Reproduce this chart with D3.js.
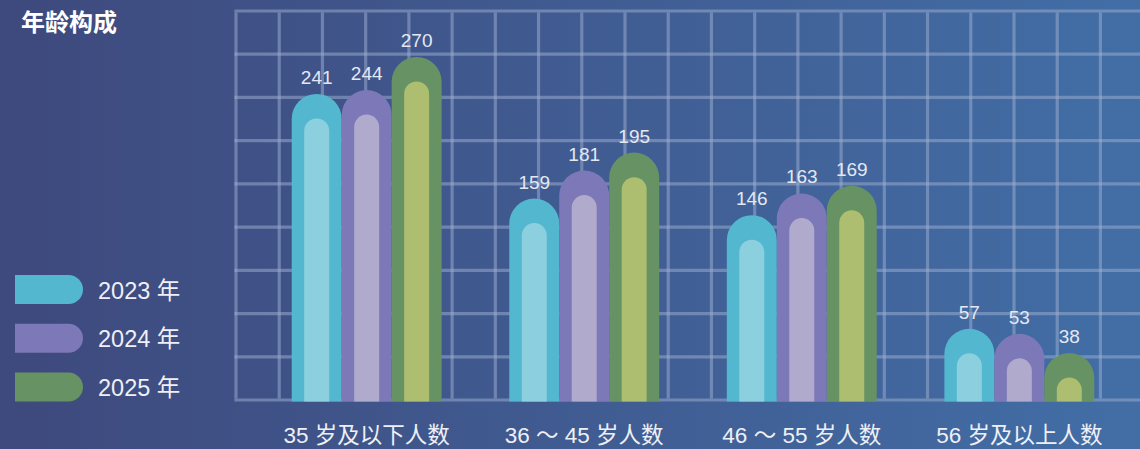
<!DOCTYPE html>
<html>
<head>
<meta charset="utf-8">
<script src="https://cdn.jsdelivr.net/npm/d3@7"></script>
<style>
  html, body { margin: 0; padding: 0; overflow: hidden; }
  body { width: 1140px; height: 449px; }
  text { font-family: "Liberation Sans", Arial, "Noto Sans CJK SC", sans-serif; }
</style>
</head>
<body>
<script>
// data
var categories = ["35 岁及以下人数", "36 ～ 45 岁人数", "46 ～ 55 岁人数", "56 岁及以上人数"];
var seriesNames = ["2023 年", "2024 年", "2025 年"];
var values2023 = [241, 159, 146, 57];
var values2024 = [244, 181, 163, 53];
var values2025 = [270, 195, 169, 38];
var outerColors = ["#53b8cf", "#7d78b8", "#679264"];
var innerColors = ["#8cd0e0", "#b0abcc", "#adbe70"];

var width = 1140, height = 449;
var allValues = [values2023, values2024, values2025];

var svg = d3.select("body").append("svg")
    .attr("width", width)
    .attr("height", height);

var defs = svg.append("defs");
var grad = defs.append("linearGradient")
    .attr("id", "bg")
    .attr("x1", "0%").attr("y1", "0%")
    .attr("x2", "100%").attr("y2", "0%");
grad.append("stop").attr("offset", "0%").attr("stop-color", "#3e497d");
grad.append("stop").attr("offset", "100%").attr("stop-color", "#426ea6");

svg.append("rect")
    .attr("width", width).attr("height", height)
    .attr("fill", "url(#bg)");

// background grid (decorative, 9 rows)
var gridTop = 11, gridBottom = 400, gridLeft = 236;
var cell = (gridBottom - gridTop) / 9;
var grid = svg.append("g")
    .attr("stroke", "rgba(160,175,210,0.5)")
    .attr("stroke-width", 3.2);
d3.range(0, 10).forEach(function(i){
  grid.append("line")
      .attr("x1", gridLeft - 1.6).attr("x2", width)
      .attr("y1", gridTop + i * cell).attr("y2", gridTop + i * cell);
});
d3.range(0, 21).forEach(function(i){
  grid.append("line")
      .attr("x1", gridLeft + i * cell).attr("x2", gridLeft + i * cell)
      .attr("y1", gridTop + 1.6).attr("y2", gridBottom - 1.6);
});

// scales
var x0 = d3.scaleBand()
    .domain(categories)
    .range([258, 1128])
    .paddingInner(0.311)
    .paddingOuter(0.155);

var x1 = d3.scaleBand()
    .domain(seriesNames)
    .range([0, x0.bandwidth()]);

var y = d3.scaleLinear()
    .domain([0, 306])
    .range([401.5, 11]);

// bar with a rounded top
function capBar(xl, w, top, bottom) {
  var r = w / 2;
  var p = d3.path();
  p.moveTo(xl, bottom);
  p.lineTo(xl, top + r);
  p.arc(xl + r, top + r, r, Math.PI, 0);
  p.lineTo(xl + w, bottom);
  p.closePath();
  return p.toString();
}

var bars = [];
categories.forEach(function(c, ci){
  seriesNames.forEach(function(s, si){
    bars.push({cat: c, series: s, si: si, value: allValues[si][ci]});
  });
});

var barG = svg.append("g");
var bw = x1.bandwidth();
var inset = bw / 4;

barG.selectAll("path.outer")
    .data(bars)
    .enter()
      .append("path")
      .attr("class", "outer")
      .attr("fill", function(d){ return outerColors[d.si]; })
      .attr("d", function(d){
        return capBar(x0(d.cat) + x1(d.series), bw, y(d.value), y(0));
      });

barG.selectAll("path.inner")
    .data(bars)
    .enter()
      .append("path")
      .attr("class", "inner")
      .attr("fill", function(d){ return innerColors[d.si]; })
      .attr("d", function(d){
        return capBar(x0(d.cat) + x1(d.series) + inset, bw - 2 * inset, y(d.value) + 24.5, y(0));
      });

barG.selectAll("text.val")
    .data(bars)
    .enter()
      .append("text")
      .attr("class", "val")
      .attr("x", function(d){ return x0(d.cat) + x1(d.series) + bw / 2; })
      .attr("y", function(d){ return y(d.value) - 10; })
      .attr("text-anchor", "middle")
      .attr("fill", "#e4e8f2")
      .attr("font-size", "19px")
      .text(function(d){ return d.value; });

// category axis labels
svg.append("g").selectAll("text")
    .data(categories)
    .enter()
      .append("text")
      .attr("x", function(d){ return x0(d) + x0.bandwidth() / 2; })
      .attr("y", 443)
      .attr("text-anchor", "middle")
      .attr("fill", "#eef0f6")
      .attr("font-size", "22.5px")
      .text(function(d){ return d; });

// title
svg.append("text")
    .attr("x", 21)
    .attr("y", 31)
    .attr("fill", "#ffffff")
    .attr("font-size", "24px")
    .attr("font-weight", "bold")
    .text("年龄构成");

// legend
var legend = svg.append("g").selectAll("g")
    .data(seriesNames)
    .enter()
      .append("g")
      .attr("transform", function(d, i){ return "translate(15," + (275 + i * 48.7) + ")"; });

legend.append("path")
    .attr("fill", function(d, i){ return outerColors[i]; })
    .attr("d", function(){
      var p = d3.path(), h = 29, w = 68, r = h / 2;
      p.moveTo(0, 0);
      p.lineTo(w - r, 0);
      p.arc(w - r, r, r, -Math.PI / 2, Math.PI / 2);
      p.lineTo(0, h);
      p.closePath();
      return p.toString();
    });

legend.append("text")
    .attr("x", 83)
    .attr("y", 23.5)
    .attr("fill", "#eef0f6")
    .attr("font-size", "23.5px")
    .text(function(d){ return d; });
</script>
</body>
</html>
